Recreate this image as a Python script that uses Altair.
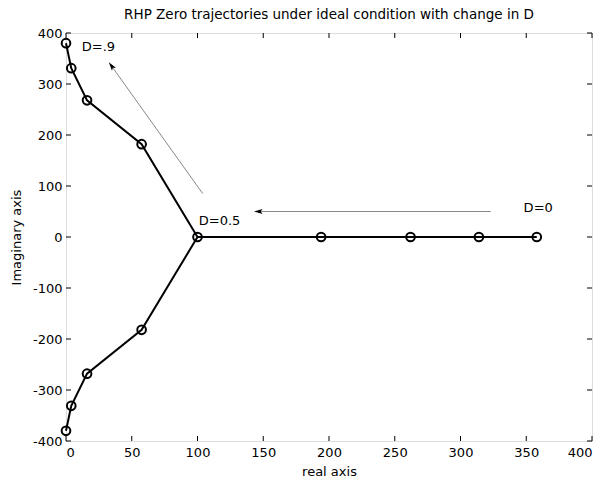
import altair as alt
import pandas as pd

# ---- data ----
upper_re = [358, 314, 262, 194, 100, 57.5, 16, 4, 0]
upper_im = [0, 0, 0, 0, 0, 182, 268, 331, 380]
lower_re = [100, 57.5, 16, 4, 0]
lower_im = [0, -182, -268, -331, -380]

arrow_x1 = [323, 104]
arrow_y1 = [50, 85]
arrow_x2 = [147, 35]
arrow_y2 = [50, 334]
arrow_angle = [270, 324]

label_text = ["D=.9", "D=0.5", "D=0"]
label_x = [12, 101, 348]
label_y = [373, 31, 57]

x_ticks = [0, 50, 100, 150, 200, 250, 300, 350, 400]
y_ticks = [-400, -300, -200, -100, 0, 100, 200, 300, 400]

W, H = 526, 408
FONT = "DejaVu Sans"
FS = 13

rows = []
for i, (a, b) in enumerate(zip(upper_re, upper_im)):
    rows.append({"re": a, "im": b, "branch": "upper", "order": i})
for i, (a, b) in enumerate(zip(lower_re, lower_im)):
    rows.append({"re": a, "im": b, "branch": "lower", "order": i})
traj = pd.DataFrame(rows)
pts = traj.drop_duplicates(subset=["re", "im"])

xs = alt.Scale(domain=[0, 400], nice=False, zero=False)
ys = alt.Scale(domain=[-400, 400], nice=False, zero=False)

LBL = "datum.value < 0 ? '-' + abs(datum.value) : '' + datum.value"

xax = alt.Axis(values=x_ticks, title="real axis", grid=False, domain=False, ticks=False,
               labelExpr=LBL,
               labelPadding=5, titlePadding=6, labelFont=FONT, titleFont=FONT,
               labelFontSize=FS, titleFontSize=FS, titleFontWeight="normal",
               labelColor="black", titleColor="black")
yax = alt.Axis(values=y_ticks, title="Imaginary axis", grid=False, domain=False, ticks=False,
               labelExpr=LBL,
               labelPadding=4, titlePadding=9, labelFont=FONT, titleFont=FONT,
               labelFontSize=FS, titleFontSize=FS, titleFontWeight="normal",
               labelColor="black", titleColor="black")

line = alt.Chart(traj).mark_line(color="black", strokeWidth=2).encode(
    x=alt.X("re:Q", scale=xs, axis=xax),
    y=alt.Y("im:Q", scale=ys, axis=yax),
    detail="branch:N",
    order="order:Q",
)

markers = alt.Chart(pts).mark_point(shape="circle", filled=False, color="black",
                                     size=75, strokeWidth=2, opacity=1).encode(
    x=alt.X("re:Q", scale=xs), y=alt.Y("im:Q", scale=ys))

arrows = pd.DataFrame({"x1": arrow_x1, "y1": arrow_y1, "x2": arrow_x2, "y2": arrow_y2,
                       "ang": arrow_angle})
arrow_lines = alt.Chart(arrows).mark_rule(color="#888888", strokeWidth=1).encode(
    x=alt.X("x1:Q", scale=xs), y=alt.Y("y1:Q", scale=ys),
    x2="x2:Q", y2="y2:Q")
arrow_heads = alt.Chart(arrows).mark_point(
    shape="M0,-1 L0.45,0.6 L0,0.25 L-0.45,0.6 Z", filled=True, color="black",
    size=120, opacity=1).encode(
    x=alt.X("x2:Q", scale=xs), y=alt.Y("y2:Q", scale=ys),
    angle=alt.Angle("ang:Q", scale=None))

labels = pd.DataFrame({"t": label_text, "x": label_x, "y": label_y})
text = alt.Chart(labels).mark_text(align="left", baseline="middle", font=FONT,
                                   fontSize=FS, color="black").encode(
    x=alt.X("x:Q", scale=xs), y=alt.Y("y:Q", scale=ys), text="t:N")

xt = pd.DataFrame({"v": x_ticks})
yt = pd.DataFrame({"v": y_ticks})
tb = alt.Chart(xt).mark_rule(color="black", strokeWidth=1).encode(
    x=alt.X("v:Q", scale=xs), y=alt.value(H), y2=alt.value(H - 5))
tt = alt.Chart(xt).mark_rule(color="black", strokeWidth=1).encode(
    x=alt.X("v:Q", scale=xs), y=alt.value(0), y2=alt.value(5))
tl = alt.Chart(yt).mark_rule(color="black", strokeWidth=1).encode(
    y=alt.Y("v:Q", scale=ys), x=alt.value(0), x2=alt.value(5))
tr = alt.Chart(yt).mark_rule(color="black", strokeWidth=1).encode(
    y=alt.Y("v:Q", scale=ys), x=alt.value(W), x2=alt.value(W - 5))

chart = alt.layer(tb, tt, tl, tr, arrow_lines, arrow_heads, line, markers, text).properties(
    width=W, height=H,
    title=alt.Title("RHP Zero trajectories under ideal condition with change in D",
                    font=FONT, fontSize=13.5, fontWeight="normal", color="black",
                    offset=6, anchor="middle"),
    padding={"left": 66, "top": 33, "right": 13, "bottom": 43},
    autosize=alt.AutoSizeParams(type="none"),
).configure_view(stroke="black", strokeWidth=1).configure(background="white")

chart.save("out.html", embed_options={"renderer": "svg", "actions": False})
